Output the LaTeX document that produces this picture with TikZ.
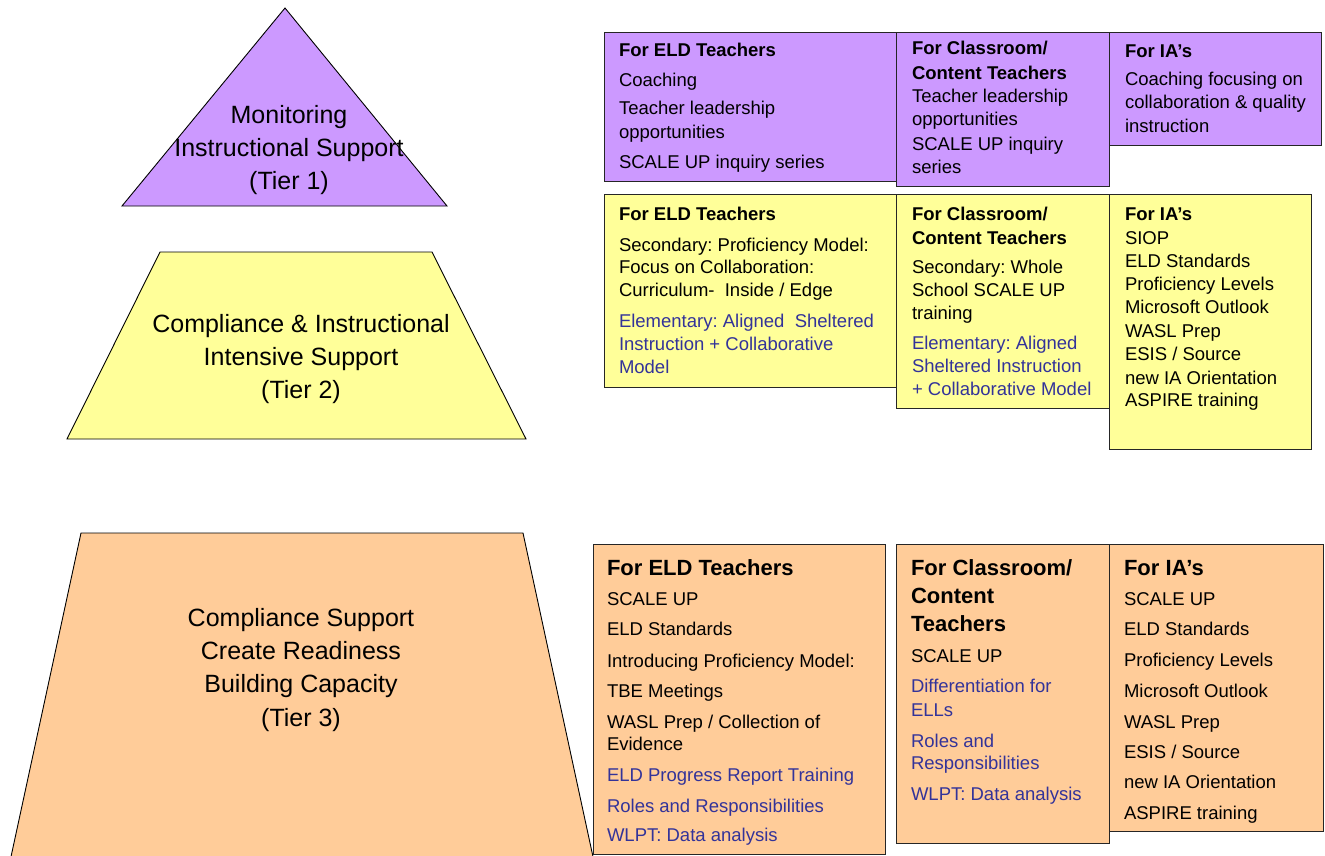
\documentclass[tikz,border=0pt]{standalone}
\usepackage{fontspec}
\setmainfont{Liberation Sans}
\frenchspacing
\definecolor{tpurple}{HTML}{CC99FF}
\definecolor{tyellow}{HTML}{FFFF99}
\definecolor{torange}{HTML}{FFCC99}
\definecolor{tblue}{HTML}{333399}
\newcommand\hdS{\fontsize{18.5}{22}\selectfont\bfseries}
\newcommand\hdL{\fontsize{22}{26}\selectfont\bfseries}
\newcommand\bdK{\fontsize{18.5}{22}\selectfont\color{black}}
\newcommand\bdB{\fontsize{18.5}{22}\selectfont\color{tblue}}
\newcommand\boxlines[3]{%
  \foreach \yy/\st/\tx [count=\k] in {#3} {%
    \node[txtline] (#1-\k) at (#2,\yy) {\st\tx};
  }%
}
\newcommand\tierlines[3]{%
  \foreach \yy/\tx [count=\k] in {#3} {%
    \node[tierline] (#1-\k) at (#2,\yy) {\tx};
  }%
}
\newcommand\panel[5]{%
  \fill[black!50] (#2+1.2,#3+1.2) rectangle (#4+1.2,#5+1.2);
  \filldraw[fill=#1, panelborder] (#2,#3) rectangle (#4,#5);
}
\begin{document}
\begin{tikzpicture}[x=1pt,y=-1pt,
  tiershape/.style={draw=black, line width=0.9pt, line join=miter},
  panelborder/.style={draw=black!85, line width=0.8pt},
  txtline/.style={anchor=base west, inner sep=0pt, outer sep=0pt},
  tierline/.style={anchor=base, inner sep=0pt, outer sep=0pt, font=\fontsize{25}{30}\selectfont}]
\useasboundingbox (0,0) rectangle (1325,856);
% tier shapes
\filldraw[tiershape, fill=tpurple] (285,8) -- (447,206) -- (122,206) -- cycle;
\filldraw[tiershape, fill=tyellow] (160,252) -- (432,252) -- (526,439) -- (67,439) -- cycle;
\fill[torange] (9,866) -- (81,533) -- (523,533) -- (595,866) -- cycle;
\draw[tiershape] (9,866) -- (81,533) -- (523,533) -- (595,866);
% panels
\panel{tpurple}{604}{32}{896}{181}
\panel{tpurple}{896}{32}{1109}{186}
\panel{tpurple}{1109}{32}{1321}{145}
\panel{tyellow}{604}{194}{896}{387}
\panel{tyellow}{896}{194}{1109}{408}
\panel{tyellow}{1109}{194}{1311}{449}
\panel{torange}{593}{544}{885}{854}
\panel{torange}{896}{544}{1109}{843}
\panel{torange}{1109}{544}{1323}{831}
% tier texts
\tierlines{ta}{289}{124/Monitoring, 157/Instructional Support, 189/(Tier 1)}
\tierlines{tb}{301}{332/Compliance \& Instructional, 365/Intensive Support, 398/(Tier 2)}
\tierlines{tc}{301}{626/Compliance Support, 659/Create Readiness, 692/Building Capacity, 726/(Tier 3)}
% panel texts
\boxlines{pa}{619}{57/\hdS/{For ELD Teachers}, 87/\bdK/{Coaching}, 115/\bdK/{Teacher leadership}, 139/\bdK/{opportunities}, 168/\bdK/{SCALE UP inquiry series}}
\boxlines{pb}{912}{55/\hdS/{For Classroom/}, 80/\hdS/{Content Teachers}, 103/\bdK/{Teacher leadership}, 126/\bdK/{opportunities}, 150/\bdK/{SCALE UP inquiry}, 173/\bdK/{series}}
\boxlines{pc}{1125}{58/\hdS/{For IA’s}, 86/\bdK/{Coaching focusing on}, 109/\bdK/{collaboration \& quality}, 133/\bdK/{instruction}}
\boxlines{ya}{619}{220/\hdS/{For ELD Teachers}, 251/\bdK/{Secondary: Proficiency Model:}, 273/\bdK/{Focus on Collaboration:}, 296/\bdK/{Curriculum-~ Inside / Edge}, 327/\bdB/{Elementary: Aligned~ Sheltered}, 350/\bdB/{Instruction + Collaborative}, 373/\bdB/{Model}}
\boxlines{yb}{912}{220/\hdS/{For Classroom/}, 244/\hdS/{Content Teachers}, 273/\bdK/{Secondary: Whole}, 296/\bdK/{School SCALE UP}, 319/\bdK/{training}, 349/\bdB/{Elementary: Aligned}, 372/\bdB/{Sheltered Instruction}, 395/\bdB/{+ Collaborative Model}}
\boxlines{yc}{1125}{220/\hdS/{For IA’s}, 244/\bdK/{SIOP}, 267/\bdK/{ELD Standards}, 290/\bdK/{Proficiency Levels}, 313/\bdK/{Microsoft Outlook}, 337/\bdK/{WASL Prep}, 360/\bdK/{ESIS / Source}, 384/\bdK/{new IA Orientation}, 406/\bdK/{ASPIRE training}}
\boxlines{oa}{607}{575/\hdL/{For ELD Teachers}, 605/\bdK/{SCALE UP}, 635/\bdK/{ELD Standards}, 667/\bdK/{Introducing Proficiency Model:}, 697/\bdK/{TBE Meetings}, 728/\bdK/{WASL Prep / Collection of}, 750/\bdK/{Evidence}, 781/\bdB/{ELD Progress Report Training}, 812/\bdB/{Roles and Responsibilities}, 841/\bdB/{WLPT: Data analysis}}
\boxlines{ob}{911}{575/\hdL/{For Classroom/}, 603/\hdL/{Content}, 631/\hdL/{Teachers}, 662/\bdK/{SCALE UP}, 692/\bdB/{Differentiation for}, 716/\bdB/{ELLs}, 747/\bdB/{Roles and}, 769/\bdB/{Responsibilities}, 800/\bdB/{WLPT: Data analysis}}
\boxlines{oc}{1124}{575/\hdL/{For IA’s}, 605/\bdK/{SCALE UP}, 635/\bdK/{ELD Standards}, 666/\bdK/{Proficiency Levels}, 697/\bdK/{Microsoft Outlook}, 728/\bdK/{WASL Prep}, 758/\bdK/{ESIS / Source}, 788/\bdK/{new IA Orientation}, 819/\bdK/{ASPIRE training}}
\end{tikzpicture}
\end{document}
